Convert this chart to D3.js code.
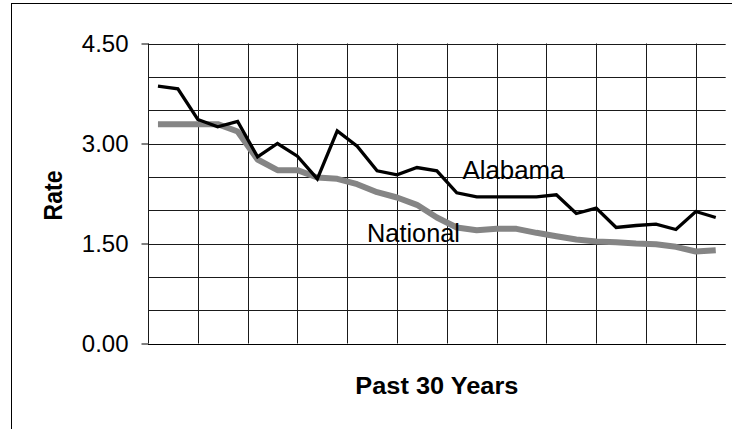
<!DOCTYPE html>
<html>
<head>
<meta charset="utf-8">
<script src="https://cdn.jsdelivr.net/npm/d3@7"></script>
<style>
  html, body { margin: 0; padding: 0; background: #fff; }
  svg { display: block; }
  text { font-family: "Liberation Sans", Arial, sans-serif; fill: #000; }
</style>
</head>
<body>
<svg id="chart" width="732" height="429"></svg>
<script>
// Yearly rates over the past 30 years (29 plotted years)
const years = d3.range(1, 30);
const alabama = [3.86, 3.82, 3.36, 3.25, 3.33, 2.80, 3.00, 2.81, 2.47, 3.19,
                 2.96, 2.59, 2.53, 2.64, 2.59, 2.26, 2.20, 2.20, 2.20, 2.20,
                 2.23, 1.95, 2.03, 1.74, 1.77, 1.79, 1.71, 1.98, 1.89];
const national = [3.29, 3.29, 3.29, 3.29, 3.18, 2.76, 2.60, 2.60, 2.49, 2.47,
                  2.39, 2.27, 2.19, 2.08, 1.89, 1.74, 1.70, 1.72, 1.72, 1.66,
                  1.61, 1.56, 1.53, 1.52, 1.50, 1.49, 1.45, 1.38, 1.40];
const yTicks = [0, 1.5, 3.0, 4.5];
const yGrid = d3.range(0, 4.51, 0.5);
const xGridStep = 2.5; // vertical gridline spacing, in years

const svg = d3.select("#chart");
const plotLeft = 148, plotRight = 725.7, plotTop = 43.5, plotBottom = 343.5;

// Chart-area frame
svg.append("rect")
  .attr("x", 11.5).attr("y", 3.5)
  .attr("width", 900).attr("height", 600)
  .attr("fill", "none").attr("stroke", "#000").attr("stroke-width", 1);

const x = d3.scaleLinear().domain([0, years.length]).range([plotLeft, plotRight]);
const y = d3.scaleLinear().domain([0, 4.5]).range([plotBottom, plotTop]);

// Horizontal gridlines
svg.append("g").selectAll("line").data(yGrid).join("line")
  .attr("x1", plotLeft).attr("x2", plotRight)
  .attr("y1", d => Math.round(y(d)) + 0.5).attr("y2", d => Math.round(y(d)) + 0.5)
  .attr("stroke", "#1a1a1a").attr("stroke-width", 1);

// Vertical gridlines
const xGrid = d3.range(0, years.length, xGridStep);
svg.append("g").selectAll("line").data(xGrid).join("line")
  .attr("x1", d => Math.round(x(d)) + 0.5).attr("x2", d => Math.round(x(d)) + 0.5)
  .attr("y1", plotTop).attr("y2", plotBottom)
  .attr("stroke", "#1a1a1a").attr("stroke-width", 1);

// Y axis with labelled ticks
const yAxis = d3.axisLeft(y).tickValues(yTicks).tickFormat(d3.format(".2f"))
  .tickSize(7).tickPadding(13);
const gy = svg.append("g").attr("transform", `translate(${plotLeft + 0.5},0)`).call(yAxis);
gy.select(".domain").remove();
gy.selectAll(".tick line").attr("stroke", "#000");
gy.selectAll(".tick text")
  .attr("font-size", 24).attr("font-family", "Liberation Sans, Arial, sans-serif")
  .attr("fill", "#000");

// Bottom axis line
svg.append("line")
  .attr("x1", plotLeft).attr("x2", plotRight)
  .attr("y1", Math.round(y(0)) + 0.5).attr("y2", Math.round(y(0)) + 0.5)
  .attr("stroke", "#000");

// Series lines
const line = d3.line()
  .x((d, i) => x(i + 0.5))
  .y(d => y(d));

svg.append("path").datum(national)
  .attr("d", line)
  .attr("fill", "none").attr("stroke", "#858585")
  .attr("stroke-width", 6).attr("stroke-linejoin", "round");

svg.append("path").datum(alabama)
  .attr("d", line)
  .attr("fill", "none").attr("stroke", "#000")
  .attr("stroke-width", 3.3).attr("stroke-linejoin", "miter");

// Series labels
svg.append("text").attr("x", 462.5).attr("y", 179.3)
  .attr("font-size", 25)
  .attr("textLength", 102).attr("lengthAdjust", "spacingAndGlyphs")
  .text("Alabama");
svg.append("text").attr("x", 367).attr("y", 242.3)
  .attr("font-size", 25)
  .attr("textLength", 93).attr("lengthAdjust", "spacingAndGlyphs")
  .text("National");

// Axis titles
svg.append("text")
  .attr("x", (plotLeft + plotRight) / 2).attr("y", 394)
  .attr("text-anchor", "middle")
  .attr("font-size", 23).attr("font-weight", "bold")
  .attr("textLength", 163).attr("lengthAdjust", "spacingAndGlyphs")
  .text("Past 30 Years");

svg.append("text")
  .attr("transform", `translate(61.5,${(plotTop + plotBottom) / 2 + 2}) scale(1.1,1) rotate(-90)`)
  .attr("text-anchor", "middle")
  .attr("font-size", 23).attr("font-weight", "bold")
  .text("Rate");
</script>
</body>
</html>
